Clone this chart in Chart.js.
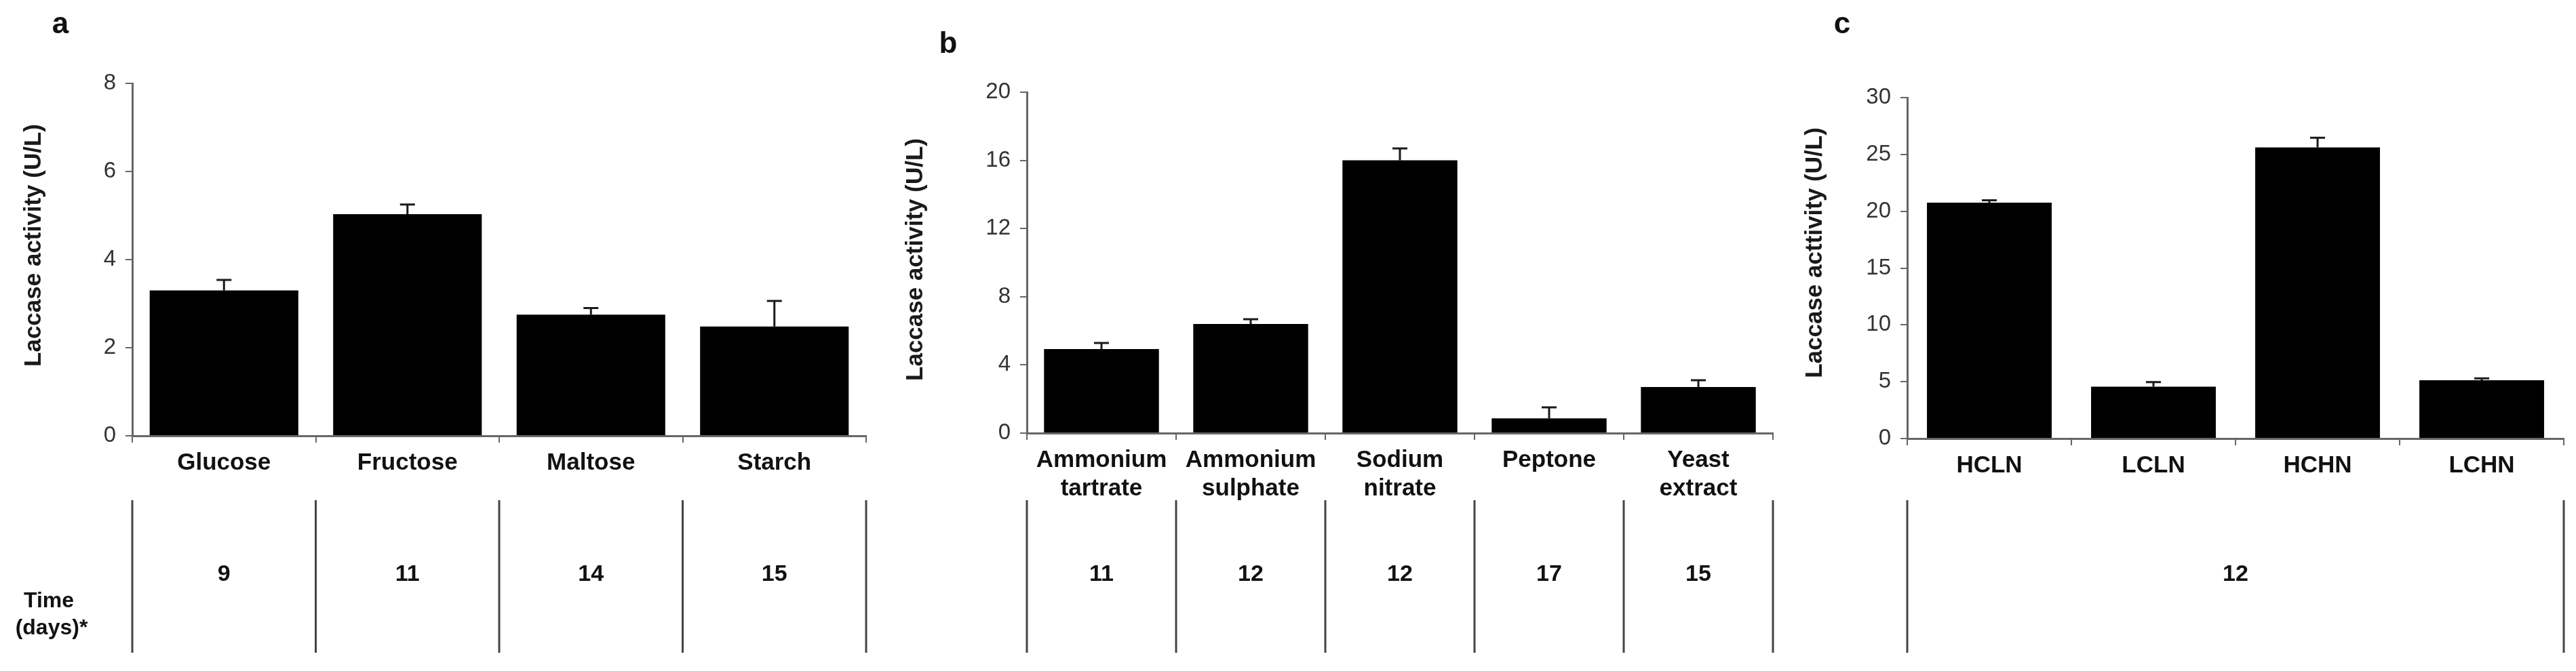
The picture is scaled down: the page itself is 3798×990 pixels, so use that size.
<!DOCTYPE html>
<html><head><meta charset="utf-8">
<script src="https://cdn.jsdelivr.net/npm/chart.js@4.4.1/dist/chart.umd.min.js"></script>
<style>
html,body{margin:0;padding:0;background:#fff;width:3798px;height:990px;overflow:hidden}
.p{position:absolute;top:0;height:990px}
canvas{display:block}
</style></head><body>
<div class="p" style="left:0;width:1300px"><canvas id="ca" width="1300" height="990"></canvas></div>
<div class="p" style="left:1300px;width:1340px"><canvas id="cb" width="1340" height="990"></canvas></div>
<div class="p" style="left:2640px;width:1158px"><canvas id="cc" width="1158" height="990"></canvas></div>
<script>
// ---- Data ----
const carbonSources = ['Glucose', 'Fructose', 'Maltose', 'Starch'];
const carbonActivity = [3.30, 5.03, 2.75, 2.48];
const carbonError = [0.24, 0.22, 0.15, 0.58];
const carbonDays = ['9', '11', '14', '15'];
const carbonTicks = [0, 2, 4, 6, 8];

const nitrogenSources = [['Ammonium', 'tartrate'], ['Ammonium', 'sulphate'], ['Sodium', 'nitrate'], 'Peptone', ['Yeast', 'extract']];
const nitrogenActivity = [4.93, 6.40, 16.0, 0.86, 2.70];
const nitrogenError = [0.36, 0.28, 0.70, 0.65, 0.40];
const nitrogenDays = ['11', '12', '12', '17', '15'];
const nitrogenTicks = [0, 4, 8, 12, 16, 20];

const cnRatios = ['HCLN', 'LCLN', 'HCHN', 'LCHN'];
const cnActivity = [20.76, 4.56, 25.62, 5.13];
const cnError = [0.20, 0.40, 0.85, 0.17];
const cnDays = ['12'];
const cnTicks = [0, 5, 10, 15, 20, 25, 30];

const timeLabel = ['Time', '(days)*'];
const FONT = "'Liberation Sans', Arial, sans-serif";

function makePanel(canvasId, p) {
  const extras = {
    id: 'extras' + canvasId,
    afterDatasetsDraw(chart) {
      const ctx = chart.ctx, ys = chart.scales.y;
      const meta = chart.getDatasetMeta(0);
      ctx.save();
      ctx.strokeStyle = '#1a1a1a';
      ctx.lineWidth = 3;
      meta.data.forEach((bar, i) => {
        const yv = ys.getPixelForValue(p.values[i]);
        const ye = ys.getPixelForValue(p.values[i] + p.errors[i]);
        ctx.beginPath();
        ctx.moveTo(bar.x, yv);
        ctx.lineTo(bar.x, ye);
        ctx.moveTo(bar.x - 11, ye);
        ctx.lineTo(bar.x + 11, ye);
        ctx.stroke();
      });
      ctx.restore();
    },
    afterDraw(chart) {
      const ctx = chart.ctx, xs = chart.scales.x;
      const n = p.labels.length;
      const half = (xs.getPixelForValue(1) - xs.getPixelForValue(0)) / 2;
      const edges = [];
      for (let i = 0; i <= n; i++) edges.push(xs.getPixelForValue(0) - half + 2 * half * i);
      ctx.save();
      // y-axis title
      ctx.save();
      ctx.translate(p.titleX, p.titleY);
      ctx.rotate(-Math.PI / 2);
      ctx.fillStyle = '#1a1a1a';
      ctx.font = 'bold 35px ' + FONT;
      ctx.textAlign = 'center';
      ctx.textBaseline = 'middle';
      ctx.fillText(p.title, 0, 0);
      ctx.restore();
      // table
      ctx.strokeStyle = '#444';
      ctx.lineWidth = 3;
      const lineEdges = p.days.length === n ? edges : [edges[0], edges[n]];
      lineEdges.forEach(x => {
        ctx.beginPath();
        ctx.moveTo(x, 738);
        ctx.lineTo(x, 963);
        ctx.stroke();
      });
      ctx.fillStyle = '#111';
      ctx.font = 'bold 34px ' + FONT;
      ctx.textAlign = 'center';
      ctx.textBaseline = 'middle';
      if (p.days.length === n) {
        p.days.forEach((d, i) => ctx.fillText(d, xs.getPixelForValue(i), 848));
      } else {
        ctx.fillText(p.days[0], (edges[0] + edges[n]) / 2, 848);
      }
      if (p.showTime) {
        ctx.font = 'bold 32px ' + FONT;
        ctx.fillText(timeLabel[0], 72, 887);
        ctx.fillText(timeLabel[1], 76, 927);
      }
      ctx.font = 'bold 44px ' + FONT;
      ctx.textBaseline = 'alphabetic';
      ctx.fillText(p.letter, p.letterX, p.letterY);
      ctx.restore();
    }
  };

  return new Chart(document.getElementById(canvasId), {
    type: 'bar',
    data: {
      labels: p.labels,
      datasets: [{
        data: p.values,
        backgroundColor: '#000',
        borderWidth: 0,
        barPercentage: p.barPct,
        categoryPercentage: 1.0
      }]
    },
    options: {
      responsive: false,
      animation: false,
      devicePixelRatio: 1,
      layout: { padding: p.padding },
      plugins: { legend: { display: false }, tooltip: { enabled: false }, title: { display: false } },
      scales: {
        x: {
          offset: true,
          afterFit(s) { s.height = 100; },
          grid: { drawOnChartArea: false, drawTicks: true, tickLength: 10, color: '#666', lineWidth: 2, offset: true },
          border: { display: true, color: '#666', width: 3 },
          ticks: { color: '#111', font: { family: FONT, size: 35, weight: 'bold' }, padding: 9, maxRotation: 0, minRotation: 0, autoSkip: false }
        },
        y: {
          min: p.ticks[0],
          max: p.ticks[p.ticks.length - 1],
          afterFit(s) { s.width = p.yWidth; },
          afterBuildTicks(s) { s.ticks = p.ticks.map(v => ({ value: v })); },
          grid: { drawOnChartArea: false, drawTicks: true, tickLength: 10, color: '#666', lineWidth: 2 },
          border: { display: true, color: '#666', width: 3 },
          ticks: { color: '#333', font: { family: FONT, size: 33 }, padding: 14 },
          title: { display: false }
        }
      }
    },
    plugins: [extras]
  });
}

makePanel('ca', {
  labels: carbonSources, values: carbonActivity, errors: carbonError, days: carbonDays, ticks: carbonTicks,
  title: 'Laccase activity (U/L)', titleX: 50, titleY: 362, letter: 'a', letterX: 89, letterY: 49, showTime: true,
  barPct: 0.81, yWidth: 170, padding: { left: 25, right: 23, top: 123, bottom: 247 }
});
makePanel('cb', {
  labels: nitrogenSources, values: nitrogenActivity, errors: nitrogenError, days: nitrogenDays, ticks: nitrogenTicks,
  title: 'Laccase activity (U/L)', titleX: 50, titleY: 383, letter: 'b', letterX: 98, letterY: 78, showTime: false,
  barPct: 0.77, yWidth: 189, padding: { left: 25, right: 26, top: 136, bottom: 251 }
});
makePanel('cc', {
  labels: cnRatios, values: cnActivity, errors: cnError, days: cnDays, ticks: cnTicks,
  title: 'Laccase acttivity (U/L)', titleX: 36, titleY: 373, letter: 'c', letterX: 76, letterY: 49, showTime: false,
  barPct: 0.76, yWidth: 161, padding: { left: 11, right: 18, top: 144, bottom: 243 }
});
</script>
</body></html>
